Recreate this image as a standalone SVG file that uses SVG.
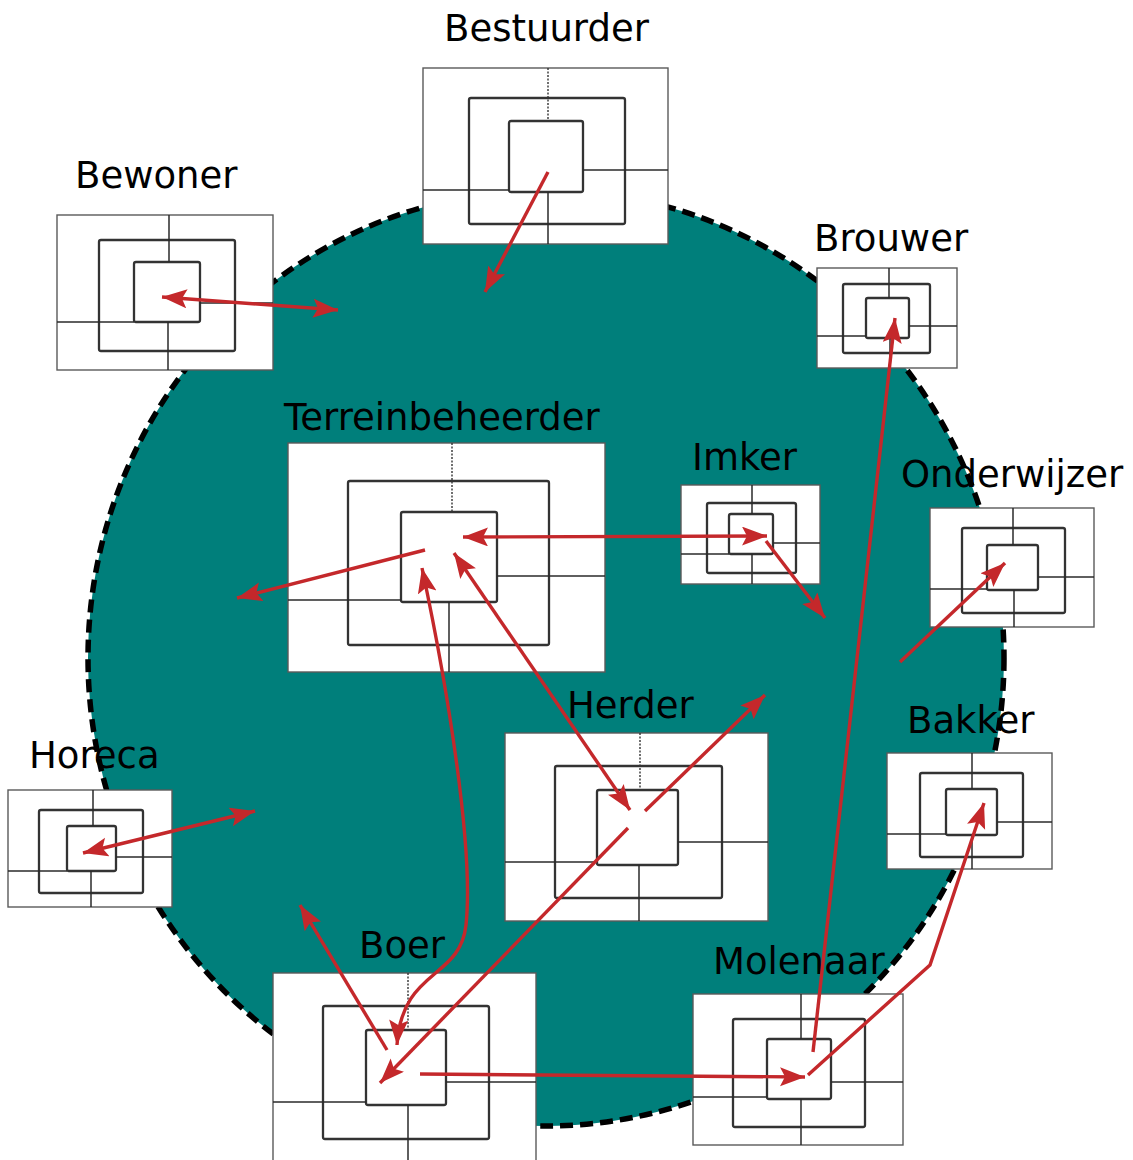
<svg xmlns="http://www.w3.org/2000/svg" width="1133" height="1160" viewBox="0 0 1133 1160">
  <style>
    .field { fill: #007f7b; stroke: #000; stroke-width: 5.5; stroke-dasharray: 13 7; }
    .outer { fill: #fff; stroke: #5a5a5a; stroke-width: 1.4; }
    .ring { fill: none; stroke: #333; stroke-width: 2.3; }
    .div { stroke: #2a2a2a; stroke-width: 1.5; fill: none; }
    .dot { stroke: #333; stroke-width: 1.4; stroke-dasharray: 2 1.5; fill: none; }
    .label { font-family: "DejaVu Sans", Verdana, sans-serif; font-size: 37px; fill: #000; }
    .flow { stroke: #c4282b; stroke-width: 3.4; fill: none; }
  </style>
  <defs>
    <marker id="head" markerUnits="userSpaceOnUse" markerWidth="28" markerHeight="22" refX="25" refY="9.5" orient="auto-start-reverse">
      <path d="M0,0 L25,9.5 L0,19 L5,9.5 z" fill="#c4282b"/>
    </marker>
  </defs>

  <!-- shared field -->
  <ellipse class="field" cx="546" cy="658" rx="458" ry="468"/>

  <!-- stakeholders -->
  <g id="bestuurder">
    <rect class="outer" x="423" y="68" width="245" height="176"/>
    <rect class="ring" x="469" y="98" width="156" height="126" rx="2"/>
    <rect class="ring" x="509" y="121" width="74" height="71" rx="2"/>
    <line class="dot" x1="548" y1="68" x2="548" y2="121"/>
    <line class="div" x1="423" y1="190" x2="509" y2="190"/>
    <line class="div" x1="583" y1="170" x2="668" y2="170"/>
    <line class="div" x1="548" y1="192" x2="548" y2="244"/>
    <text class="label" x="444" y="41">Bestuurder</text>
  </g>

  <g id="bewoner">
    <rect class="outer" x="57" y="215" width="216" height="155"/>
    <rect class="ring" x="99" y="240" width="136" height="111" rx="2"/>
    <rect class="ring" x="134" y="262" width="66" height="60" rx="2"/>
    <line class="div" x1="169" y1="215" x2="169" y2="262"/>
    <line class="div" x1="57" y1="322" x2="134" y2="322"/>
    <line class="div" x1="200" y1="303" x2="273" y2="303"/>
    <line class="div" x1="168" y1="322" x2="168" y2="370"/>
    <text class="label" x="75" y="188">Bewoner</text>
  </g>

  <g id="terreinbeheerder">
    <rect class="outer" x="288" y="443" width="317" height="229"/>
    <rect class="ring" x="348" y="481" width="201" height="164" rx="2"/>
    <rect class="ring" x="401" y="512" width="96" height="90" rx="2"/>
    <line class="dot" x1="452" y1="443" x2="452" y2="512"/>
    <line class="div" x1="288" y1="600" x2="401" y2="600"/>
    <line class="div" x1="497" y1="576" x2="605" y2="576"/>
    <line class="div" x1="449" y1="602" x2="449" y2="672"/>
    <text class="label" x="284" y="430">Terreinbeheerder</text>
  </g>

  <g id="herder">
    <rect class="outer" x="505" y="733" width="263" height="188"/>
    <rect class="ring" x="555" y="766" width="167" height="132" rx="2"/>
    <rect class="ring" x="597" y="790" width="81" height="75" rx="2"/>
    <line class="dot" x1="640" y1="733" x2="640" y2="790"/>
    <line class="div" x1="505" y1="862" x2="597" y2="862"/>
    <line class="div" x1="678" y1="842" x2="768" y2="842"/>
    <line class="div" x1="639" y1="865" x2="639" y2="921"/>
    <text class="label" x="567" y="718">Herder</text>
  </g>

  <g id="boer">
    <rect class="outer" x="273" y="973" width="263" height="197"/>
    <rect class="ring" x="323" y="1006" width="166" height="133" rx="2"/>
    <rect class="ring" x="366" y="1030" width="80" height="75" rx="2"/>
    <line class="dot" x1="408" y1="973" x2="408" y2="1030"/>
    <line class="div" x1="273" y1="1102" x2="366" y2="1102"/>
    <line class="div" x1="446" y1="1082" x2="536" y2="1082"/>
    <line class="div" x1="408" y1="1105" x2="408" y2="1170"/>
    <text class="label" x="359" y="958">Boer</text>
  </g>

  <g id="molenaar">
    <rect class="outer" x="693" y="994" width="210" height="151"/>
    <rect class="ring" x="733" y="1019" width="132" height="108" rx="2"/>
    <rect class="ring" x="767" y="1039" width="64" height="60" rx="2"/>
    <line class="div" x1="801" y1="994" x2="801" y2="1039"/>
    <line class="div" x1="693" y1="1097" x2="767" y2="1097"/>
    <line class="div" x1="831" y1="1082" x2="903" y2="1082"/>
    <line class="div" x1="801" y1="1099" x2="801" y2="1145"/>
    <text class="label" x="713" y="974">Molenaar</text>
  </g>

  <g id="brouwer">
    <rect class="outer" x="817" y="268" width="140" height="100"/>
    <rect class="ring" x="843" y="284" width="87" height="69" rx="2"/>
    <rect class="ring" x="866" y="298" width="43" height="40" rx="2"/>
    <line class="div" x1="889" y1="268" x2="889" y2="298"/>
    <line class="div" x1="817" y1="336" x2="866" y2="336"/>
    <line class="div" x1="909" y1="326" x2="957" y2="326"/>
    <line class="div" x1="890" y1="338" x2="890" y2="368"/>
    <text class="label" x="814" y="251">Brouwer</text>
  </g>

  <g id="imker">
    <rect class="outer" x="681" y="485" width="139" height="99"/>
    <rect class="ring" x="707" y="503" width="89" height="70" rx="2"/>
    <rect class="ring" x="729" y="514" width="44" height="40" rx="2"/>
    <line class="div" x1="752" y1="485" x2="752" y2="514"/>
    <line class="div" x1="681" y1="554" x2="729" y2="554"/>
    <line class="div" x1="773" y1="543" x2="820" y2="543"/>
    <line class="div" x1="752" y1="554" x2="752" y2="584"/>
    <text class="label" x="692" y="470">Imker</text>
  </g>

  <g id="onderwijzer">
    <rect class="outer" x="930" y="508" width="164" height="119"/>
    <rect class="ring" x="962" y="528" width="103" height="85" rx="2"/>
    <rect class="ring" x="987" y="545" width="51" height="45" rx="2"/>
    <line class="div" x1="1013" y1="508" x2="1013" y2="545"/>
    <line class="div" x1="930" y1="589" x2="987" y2="589"/>
    <line class="div" x1="1038" y1="577" x2="1094" y2="577"/>
    <line class="div" x1="1014" y1="590" x2="1014" y2="627"/>
    <text class="label" x="901" y="487">Onderwijzer</text>
  </g>

  <g id="bakker">
    <rect class="outer" x="887" y="753" width="165" height="116"/>
    <rect class="ring" x="920" y="773" width="103" height="84" rx="2"/>
    <rect class="ring" x="946" y="789" width="51" height="46" rx="2"/>
    <line class="div" x1="972" y1="753" x2="972" y2="789"/>
    <line class="div" x1="887" y1="834" x2="946" y2="834"/>
    <line class="div" x1="997" y1="822" x2="1052" y2="822"/>
    <line class="div" x1="972" y1="835" x2="972" y2="869"/>
    <text class="label" x="907" y="733">Bakker</text>
  </g>

  <g id="horeca">
    <rect class="outer" x="8" y="790" width="164" height="117"/>
    <rect class="ring" x="39" y="810" width="104" height="83" rx="2"/>
    <rect class="ring" x="67" y="826" width="49" height="45" rx="2"/>
    <line class="div" x1="93" y1="790" x2="93" y2="826"/>
    <line class="div" x1="8" y1="871" x2="67" y2="871"/>
    <line class="div" x1="116" y1="857" x2="172" y2="857"/>
    <line class="div" x1="91" y1="871" x2="91" y2="907"/>
    <text class="label" x="29" y="768">Horeca</text>
  </g>

  <!-- relations -->
  <g id="connectors">
    <line class="flow" x1="548" y1="172" x2="485" y2="292" marker-end="url(#head)"/>
    <line class="flow" x1="162" y1="297" x2="338" y2="310" marker-start="url(#head)" marker-end="url(#head)"/>
    <line class="flow" x1="425" y1="550" x2="237" y2="598" marker-end="url(#head)"/>
    <line class="flow" x1="463" y1="537" x2="767" y2="536" marker-start="url(#head)" marker-end="url(#head)"/>
    <line class="flow" x1="766" y1="541" x2="825" y2="618" marker-end="url(#head)"/>
    <line class="flow" x1="454" y1="553" x2="630" y2="810" marker-start="url(#head)" marker-end="url(#head)"/>
    <line class="flow" x1="645" y1="811" x2="765" y2="695" marker-end="url(#head)"/>
    <line class="flow" x1="628" y1="828" x2="380" y2="1083" marker-end="url(#head)"/>
    <path class="flow" d="M422,568 C448,690 474,850 466,925 C460,980 402,968 397,1045" marker-start="url(#head)" marker-end="url(#head)"/>
    <line class="flow" x1="387" y1="1050" x2="300" y2="905" marker-end="url(#head)"/>
    <line class="flow" x1="420" y1="1074" x2="805" y2="1077" marker-end="url(#head)"/>
    <line class="flow" x1="813" y1="1052" x2="895" y2="318" marker-end="url(#head)"/>
    <polyline class="flow" points="808,1075 930,965 984,803" marker-end="url(#head)"/>
    <line class="flow" x1="900" y1="662" x2="1005" y2="563" marker-end="url(#head)"/>
    <line class="flow" x1="83" y1="853" x2="255" y2="811" marker-start="url(#head)" marker-end="url(#head)"/>
  </g>
</svg>
